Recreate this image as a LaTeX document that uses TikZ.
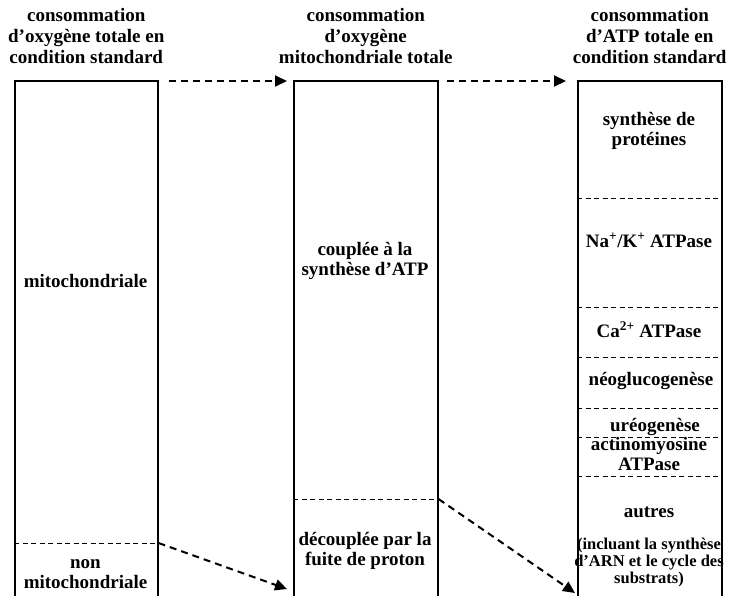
\documentclass[tikz,border=0pt]{standalone}
\usepackage{fontspec}
\setmainfont{Liberation Serif}
\usetikzlibrary{arrows.meta}

\begin{document}
\begin{tikzpicture}[
    x=1pt, y=-1pt, % Koordinaten in Pixeln, y nach unten
    every node/.style={font=\bfseries\fontsize{19}{20}\selectfont, inner sep=0pt, align=center}, % Schrift
    colbox/.style={draw, line width=1.5pt, anchor=north west, minimum width=144pt, minimum height=525pt}, % Saeulen
    title/.style={anchor=south, font=\bfseries\fontsize{19}{21}\selectfont}, % Ueberschriften
    lbl/.style={anchor=base}, % Beschriftungen (Grundlinie der letzten Zeile)
    small/.style={anchor=base, font=\bfseries\fontsize{16.5}{17}\selectfont}, % kleine Beschriftung
    divider/.style={dash pattern=on 5pt off 3.5pt, line width=0.8pt}, % Trennlinien
    flow/.style={dash pattern=on 7pt off 5pt, line width=2pt, -{Triangle[length=12pt,width=11pt]}} % Pfeile
]
\useasboundingbox (0,0) rectangle (731,595);

% Saeulen
\node[colbox, minimum width=143pt] (oxytot) at (14,80) {};
\node[colbox] (oxymito) at (293,80) {};
\node[colbox] (atptot) at (577,80) {};

% Ueberschriften
\node[title] (toxytot) at ([yshift=16pt]oxytot.north) {consommation\\d’oxygène totale en\\condition standard};
\node[title] (toxymito) at ([yshift=16pt]oxymito.north) {consommation\\d’oxygène\\mitochondriale totale};
\node[title] (tatptot) at ([yshift=16pt]atptot.north) {consommation\\d’ATP totale en\\condition standard};

% Trennlinien
\coordinate (nonmito) at (oxytot.east |- 0,543);
\coordinate (fuite) at (oxymito.east |- 0,499);
\draw[divider] (oxytot.west |- nonmito) -- (nonmito);
\draw[divider] (oxymito.west |- fuite) -- (fuite);
\foreach \y in {198,307,357,408,437,476}
  \draw[divider] (atptot.west |- 0,\y) -- (atptot.east |- 0,\y);

% Beschriftungen links
\node[lbl] (mitolbl) at (85.5,287) {mitochondriale};
\node[lbl] (nonmitolbl) at (85.5,588) {non\\mitochondriale};

% Beschriftungen Mitte
\node[lbl] (couple) at (365,275) {couplée à la\\synthèse d’ATP};
\node[lbl] (decouple) at (365,565) {découplée par la\\fuite de proton};

% Beschriftungen rechts
\node[lbl] (proteines) at (649,145) {synthèse de\\protéines};
\node[lbl] (nak) at (649,247) {Na\textsuperscript{+}/K\textsuperscript{+} ATPase};
\node[lbl] (ca) at (649,337) {Ca\textsuperscript{2+} ATPase};
\node[lbl] (neoglu) at (651,385) {néoglucogenèse};
\node[lbl] (ureo) at (655,431) {uréogenèse};
\node[lbl] (actino) at (649,470) {actinomyosine\\ATPase};
\node[lbl] (autres) at (649,517) {autres};
\node[small] (incluant) at (649,583) {(incluant la synthèse\\d’ARN et le cycle des\\substrats)};

% Pfeile
\coordinate (mitoin) at ([xshift=-6pt]oxymito.west |- 0,589);
\coordinate (atpin) at ([xshift=-2pt]atptot.west |- 0,593);
\draw[flow] ([xshift=10pt,yshift=-1pt]oxytot.north east) -- ([xshift=-6pt,yshift=-1pt]oxymito.north west);
\draw[flow] ([xshift=8pt,yshift=-1pt]oxymito.north east) -- ([xshift=-11pt,yshift=-1pt]atptot.north west);
\draw[flow] (nonmito) -- (mitoin);
\draw[flow] (fuite) -- (atpin);

\end{tikzpicture}
\end{document}
